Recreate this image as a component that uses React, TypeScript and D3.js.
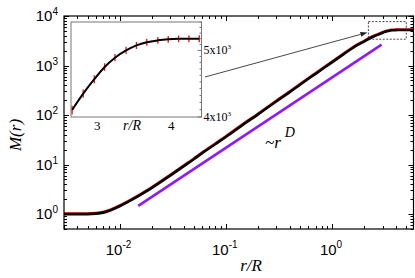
import { useMemo } from "react";
import * as d3 from "d3";

const W = 415;
const H = 278;
const MAIN = { left: 64, right: 413.5, top: 16, bottom: 229 };
const INSET = { left: 71, right: 201.5, top: 22, bottom: 117 };

// M(r)
const radius = [
  0.003, 0.004, 0.005, 0.006, 0.007, 0.008, 0.009, 0.01, 0.012, 0.015, 0.017, 0.02,
  0.03, 0.04, 0.05, 0.06, 0.08, 0.1, 0.15, 0.2, 0.3, 0.4, 0.5, 0.7, 1.0, 1.3, 1.6,
  2.0, 2.3, 2.65, 2.81, 2.96, 3.1, 3.24, 3.39, 3.53, 3.67, 3.82, 3.96, 4.1, 4.4, 5.0, 5.85,
];
const mass = [
  1.0, 1.0, 1.0, 1.02, 1.07, 1.17, 1.3, 1.44, 1.76, 2.3, 2.7, 3.35,
  6.0, 9.2, 12.8, 17, 26, 36, 67, 102, 190, 290, 410, 680, 1160, 1720, 2330,
  3050, 3600, 4100, 4325, 4540, 4730, 4880, 5000, 5085, 5140, 5172, 5190, 5198, 5200, 5200, 5200,
];

// zoomed points shown in the inset
const insetRadius = [2.66, 2.81, 2.96, 3.1, 3.24, 3.39, 3.53, 3.67, 3.82, 3.96, 4.1, 4.24, 4.38];
const insetMass = [4095, 4325, 4540, 4730, 4880, 5000, 5085, 5140, 5172, 5190, 5198, 5200, 5200];
const insetErr = [60, 60, 60, 60, 60, 60, 60, 60, 60, 60, 60, 60, 60];

// guide line ~ r^D
const guideR = [0.015, 2.93];
const guideM = [1.47, 2640];

const xMajor = [0.01, 0.1, 1];
const xMajorExp = ["-2", "-1", "0"];
const yMajor = [1, 10, 100, 1000, 10000];
const yMajorExp = ["0", "1", "2", "3", "4"];
const insetXTicks = [3, 4];
const insetYLabels = [4000, 5000];
const insetYLabelMant = ["4", "5"];
const zoomBoxR = [2.2, 5.0];
const zoomBoxM = [3400, 7700];

const SANS = "'Liberation Sans', Arial, sans-serif";
const SERIF = "'Liberation Serif', 'Times New Roman', serif";

const isDecade = (v: number) => Math.abs(Math.log10(v) - Math.round(Math.log10(v))) < 1e-6;

export default function App() {
  const x = useMemo(
    () => d3.scaleLog().domain([0.003, 5.85]).range([MAIN.left, MAIN.right]),
    []
  );
  const y = useMemo(
    () => d3.scaleLog().domain([0.5, 10000]).range([MAIN.bottom, MAIN.top]),
    []
  );
  const xi = useMemo(
    () => d3.scaleLinear().domain([2.645, 4.41]).range([INSET.left, INSET.right]),
    []
  );
  const yi = useMemo(
    () => d3.scaleLog().domain([4000, 5500]).range([INSET.bottom, INSET.top]),
    []
  );

  const mainPts: [number, number][] = radius.map((r, i) => [x(r), y(mass[i])]);
  const line = d3.line().curve(d3.curveMonotoneX);
  const mainPath = line(mainPts) || "";

  const insetPts: [number, number][] = insetRadius.map((r, i) => [xi(r), yi(insetMass[i])]);
  const insetPath = line(insetPts) || "";

  const xTicks = x.ticks();
  const yTicks = y.ticks();
  const insetYTicks = d3.range(4000, 5501, 100);

  // arrow from inset to zoom box
  const ax0 = 205;
  const ay0 = 77;
  const ax1 = x(zoomBoxR[0]) - 1;
  const ay1 = 32.5;
  const ang = Math.atan2(ay1 - ay0, ax1 - ax0);
  const hl = 7;
  const hw = 2.4;
  const bx = ax1 - hl * Math.cos(ang);
  const by = ay1 - hl * Math.sin(ang);
  const arrowHead = [
    [ax1, ay1],
    [bx + hw * Math.sin(ang), by - hw * Math.cos(ang)],
    [bx - hw * Math.sin(ang), by + hw * Math.cos(ang)],
  ]
    .map((p) => p.join(","))
    .join(" ");

  return (
    <div style={{ position: "fixed", left: 0, top: 0 }}>
      <svg width={W} height={H} style={{ display: "block", background: "#fff" }}>
        <defs>
          <clipPath id="mainClip">
            <rect x={MAIN.left} y={MAIN.top} width={MAIN.right - MAIN.left} height={MAIN.bottom - MAIN.top} />
          </clipPath>
          <clipPath id="insetClip">
            <rect x={INSET.left} y={INSET.top} width={INSET.right - INSET.left} height={INSET.bottom - INSET.top} />
          </clipPath>
        </defs>

        {/* main ticks */}
        <g stroke="#000" strokeWidth={1}>
          {xTicks.map((t, i) => {
            const len = isDecade(t) ? 5 : 3;
            const px = Math.round(x(t)) + 0.5;
            return (
              <g key={"xt" + i}>
                <line x1={px} x2={px} y1={MAIN.bottom} y2={MAIN.bottom - len} />
                <line x1={px} x2={px} y1={MAIN.top} y2={MAIN.top + len} />
              </g>
            );
          })}
          {yTicks.map((t, i) => {
            const len = isDecade(t) ? 5 : 3;
            const py = Math.round(y(t)) + 0.5;
            return (
              <g key={"yt" + i}>
                <line x1={MAIN.left} x2={MAIN.left + len} y1={py} y2={py} />
                <line x1={MAIN.right} x2={MAIN.right - len} y1={py} y2={py} />
              </g>
            );
          })}
        </g>

        {/* curves */}
        <g clipPath="url(#mainClip)">
          <path d={mainPath} fill="none" stroke="#e8201c" strokeWidth={2.4} transform="translate(-0.3,-0.6)" />
          <path d={mainPath} fill="none" stroke="#000" strokeWidth={2.6} strokeLinejoin="round" />
          <line
            x1={x(guideR[0])}
            y1={y(guideM[0])}
            x2={x(guideR[1])}
            y2={y(guideM[1])}
            stroke="#8c1aff"
            strokeWidth={2.6}
          />
          <rect
            x={x(zoomBoxR[0])}
            y={y(zoomBoxM[1])}
            width={x(zoomBoxR[1]) - x(zoomBoxR[0])}
            height={y(zoomBoxM[0]) - y(zoomBoxM[1])}
            fill="none"
            stroke="#333"
            strokeWidth={0.9}
            strokeDasharray="2,1.5"
          />
        </g>

        <rect
          x={MAIN.left}
          y={MAIN.top}
          width={MAIN.right - MAIN.left}
          height={MAIN.bottom - MAIN.top}
          fill="none"
          stroke="#000"
          strokeWidth={1.2}
        />

        {/* arrow */}
        <line x1={ax0} y1={ay0} x2={bx} y2={by} stroke="#333" strokeWidth={0.9} />
        <polygon points={arrowHead} fill="#222" />

        {/* ~r^D */}
        <text x={265} y={148} fontFamily={SERIF} fontSize={17} fontStyle="italic">
          ~r
          <tspan fontSize={14} dx={4} dy={-11}>
            D
          </tspan>
        </text>

        {/* main tick labels */}
        <g fontFamily={SANS} fill="#000">
          {xMajor.map((t, i) => (
            <text key={"xl" + i} x={x(t) - 1} y={255} textAnchor="middle" fontSize={15}>
              10
              <tspan fontSize={10} dy={-7}>
                {xMajorExp[i]}
              </tspan>
            </text>
          ))}
          {yMajor.map((t, i) => (
            <text key={"yl" + i} x={58} y={y(t) + 5} textAnchor="end" fontSize={15}>
              10
              <tspan fontSize={10} dy={-6}>
                {yMajorExp[i]}
              </tspan>
            </text>
          ))}
        </g>

        {/* axis titles */}
        <text x={251} y={271} textAnchor="middle" fontFamily={SERIF} fontSize={17} fontStyle="italic">
          r/R
        </text>
        <text
          transform="translate(21,135) rotate(-90)"
          textAnchor="middle"
          fontFamily={SERIF}
          fontSize={17}
          fontStyle="italic"
        >
          M(r)
        </text>

        {/* inset */}
        <rect
          x={INSET.left}
          y={INSET.top}
          width={INSET.right - INSET.left}
          height={INSET.bottom - INSET.top}
          fill="#fff"
          stroke="none"
        />
        <g clipPath="url(#insetClip)">
          {insetRadius.map((r, i) => (
            <line
              key={"eb" + i}
              x1={xi(r)}
              x2={xi(r)}
              y1={yi(insetMass[i] - insetErr[i])}
              y2={yi(insetMass[i] + insetErr[i])}
              stroke="#f01010"
              strokeWidth={1.3}
            />
          ))}
          <path d={insetPath} fill="none" stroke="#000" strokeWidth={2} />
        </g>
        <g stroke="#555" strokeWidth={0.8}>
          {insetYTicks.map((t, i) => {
            const py = yi(t);
            const len = t % 1000 === 0 ? 4 : 2;
            return <line key={"iyt" + i} x1={INSET.right} x2={INSET.right - len} y1={py} y2={py} />;
          })}
        </g>
        <rect
          x={INSET.left}
          y={INSET.top}
          width={INSET.right - INSET.left}
          height={INSET.bottom - INSET.top}
          fill="none"
          stroke="#777"
          strokeWidth={1}
        />
        <g fontFamily={SERIF} fill="#000">
          {insetXTicks.map((t, i) => (
            <text key={"ixl" + i} x={xi(t)} y={130} textAnchor="middle" fontSize={13}>
              {t}
            </text>
          ))}
          <text x={132} y={130} textAnchor="middle" fontSize={14} fontStyle="italic">
            r/R
          </text>
          {insetYLabels.map((t, i) => (
            <text key={"iyl" + i} x={INSET.right + 2} y={yi(t) + 4} fontSize={12}>
              {insetYLabelMant[i]}x10
              <tspan fontSize={7} dy={-5}>
                3
              </tspan>
            </text>
          ))}
        </g>
      </svg>
    </div>
  );
}
